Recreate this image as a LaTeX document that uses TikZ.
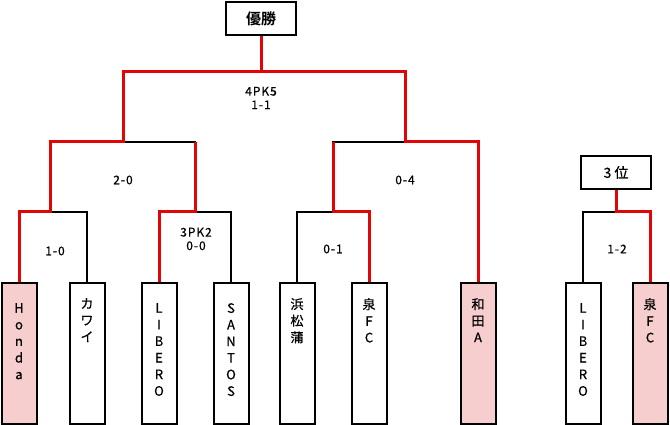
\documentclass[tikz,border=0pt]{standalone}
\usepackage{fontspec}
\setmainfont{Noto Sans CJK JP}[BoldFont={Noto Sans CJK JP Bold}]
\newfontfamily\scorefont{Noto Sans CJK JP}[LetterSpace=8,FakeBold=0.6]
\newfontfamily\namefont{Noto Sans CJK JP}[FakeBold=0.6]
\usepackage{tikz}
\usetikzlibrary{positioning}
\usetikzlibrary{calc}
\definecolor{winred}{RGB}{225,5,5}
\definecolor{winpink}{RGB}{246,206,206}
\tikzstyle{team} = [draw,line width=2pt,rectangle,anchor=north,minimum width=35pt,minimum height=141pt,inner sep=0pt]
\tikzstyle{tname} = [align=center,inner sep=0pt,font=\namefont\fontsize{13}{16.6}\selectfont]
\tikzstyle{rank} = [draw,line width=2pt,rectangle,minimum width=70pt,minimum height=33pt]
\tikzstyle{score} = [align=center,font=\scorefont\fontsize{12}{13.5}\selectfont]

\begin{document}
\begin{tikzpicture}
	[x=1pt,y=-1pt]
	\tikzstyle{line}=[line width=2pt];
	\tikzstyle{win}=[line width=3pt,winred];
	\useasboundingbox (0,0) rectangle (670,425);
	
	\node (champ) [rank] at (261,18.5) {\fontsize{15}{15}\selectfont\bfseries 優勝};
	\node (third) [rank] at (616,172.5) {\namefont\fontsize{14}{14}\selectfont 3 位};
	
	\node (honda) [team,fill=winpink] at (19,282) {};
	\node (kawai) [team] at (87,282) {};
	\node (libero) [team] at (159,282) {};
	\node (santos) [team] at (231,282) {};
	\node (hama) [team] at (297,282) {};
	\node (izumi) [team] at (369,282) {};
	\node (wada) [team,fill=winpink] at (478,282) {};
	\node (liberob) [team] at (583,282) {};
	\node (izumib) [team,fill=winpink] at (650,282) {};
	
	\node (honda text) [tname,below=21pt of honda.north] {H\\o\\n\\d\\a};
	\node (kawai text) [tname,below=16pt of kawai.north] {カ\\ワ\\イ};
	\node (libero text) [tname,below=21pt of libero.north] {L\\I\\B\\E\\R\\O};
	\node (santos text) [tname,below=21pt of santos.north] {S\\A\\N\\T\\O\\S};
	\node (hama text) [tname,below=16pt of hama.north] {浜\\松\\蒲};
	\node (izumi text) [tname,below=16pt of izumi.north] {泉\\F\\C};
	\node (wada text) [tname,below=16pt of wada.north] {和\\田\\A};
	\node (liberob text) [tname,below=21pt of liberob.north] {L\\I\\B\\E\\R\\O};
	\node (izumib text) [tname,below=16pt of izumib.north] {泉\\F\\C};
	
	\coordinate (r1a) at (50,212);
	\coordinate (r1b) at (195,212);
	\coordinate (r1c) at (333,212);
	\coordinate (r1d) at (616,212);
	\coordinate (r2a) at (123,142);
	\coordinate (r2b) at (405,142);
	\coordinate (fin) at (261,72);
	
	\draw[line] (honda.north) |- (r1a) -| (kawai.north);
	\draw[line] (libero.north) |- (r1b) -| (santos.north);
	\draw[line] (hama.north) |- (r1c) -| (izumi.north);
	\draw[line] (r1a) |- (r2a) -| (r1b);
	\draw[line] (r1c) |- (r2b) -| (wada.north);
	\draw[line] (r2a) |- (fin) -| (r2b);
	\draw[line] (liberob.north) |- (r1d) -| (izumib.north);
	
	\draw[win] (honda.north) |- (r1a) |- (r2a) |- (fin) -- (champ.south);
	\draw[win] (libero.north) |- (r1b) -- (r1b |- r2a);
	\draw[win] (izumi.north) |- (r1c) -- (r1c |- r2b);
	\draw[win] (wada.north) |- (r2b) |- (fin);
	\draw[win] (izumib.north) |- (r1d) -- (third.south);
	
	\node (s final) [score] at (261,98) {4PK5\\1-1};
	\node (s semi a) [score] at (123,180) {2-0};
	\node (s semi b) [score] at (405,180) {0-4};
	\node (s qf a) [score] at (55,251) {1-0};
	\node (s qf b) [score] at (196,239) {3PK2\\0-0};
	\node (s qf c) [score] at (333,249) {0-1};
	\node (s third) [score] at (617,249) {1-2};
\end{tikzpicture}
\end{document}
